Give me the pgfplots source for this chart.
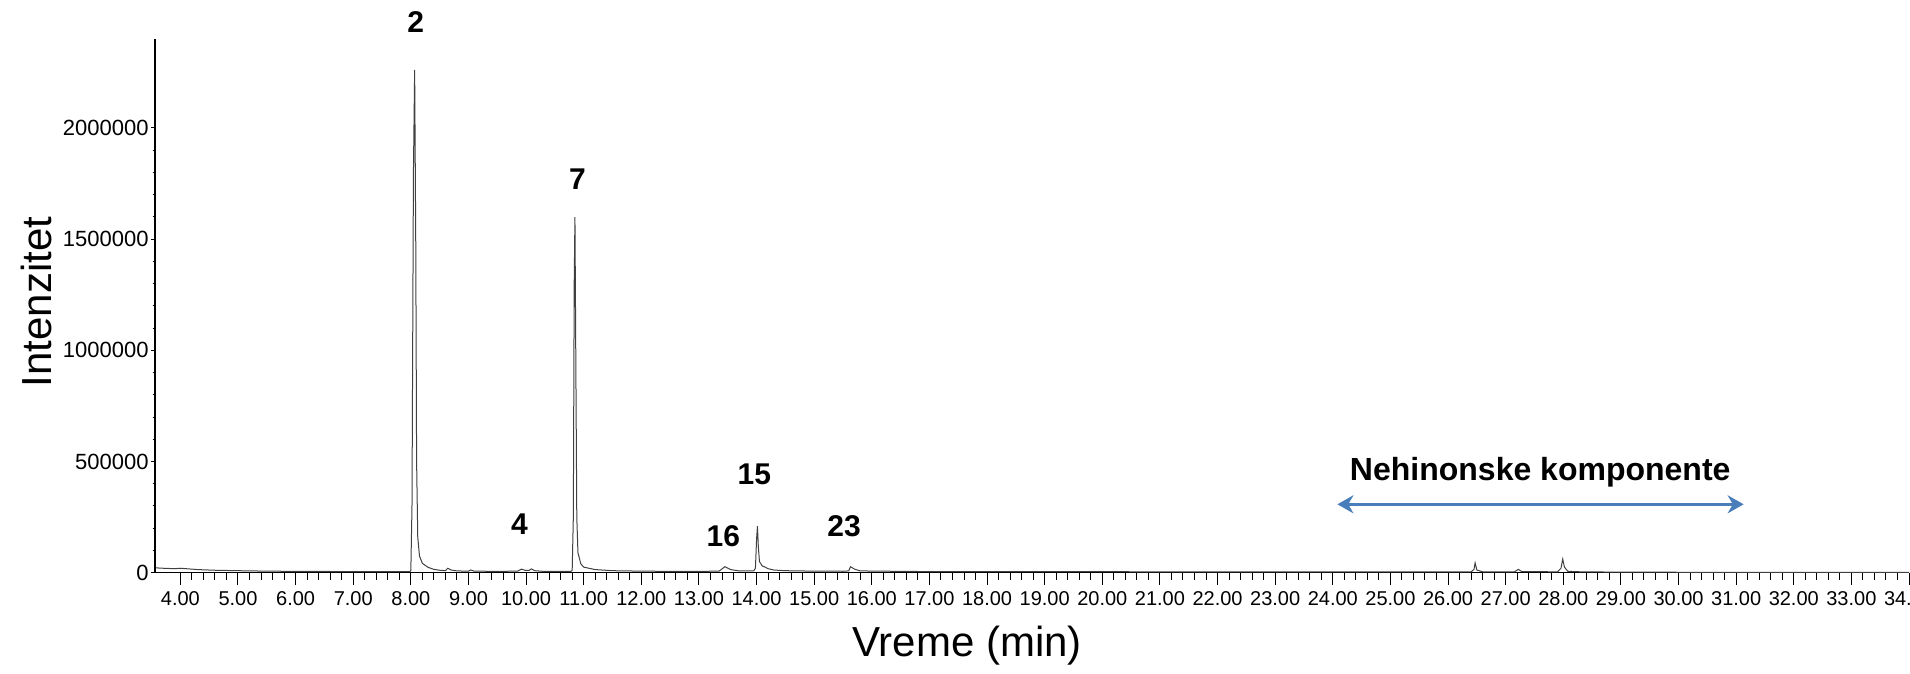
\documentclass[border=0pt]{standalone}
\usepackage{pgfplots}
\pgfplotsset{compat=1.18}
\usepackage{fontspec}
\setmainfont{Liberation Sans}
\usetikzlibrary{arrows.meta}
\definecolor{arrowblue}{RGB}{74,126,187}

\pgfplotstableread{
x y
3.56 22000
3.7 20000
3.9 18000
4.0 20000
4.1 18000
4.3 14000
4.6 11000
5.0 9000
5.5 7000
6.0 6000
6.5 5500
7.0 5000
7.5 5000
7.9 4500
7.98 4500
8.00 10000
8.02 300000
8.045 1800000
8.066 2261000
8.085 1500000
8.10 500000
8.12 160000
8.15 75000
8.2 42000
8.3 24000
8.4 15000
8.5 11000
8.6 9000
8.64 20000
8.7 12000
8.8 8000
9.0 7000
9.04 12000
9.1 7000
9.5 6000
9.85 7000
9.92 16000
9.98 11000
10.05 10000
10.09 17000
10.15 9000
10.3 6000
10.6 6000
10.78 6500
10.80 10000
10.82 250000
10.835 1300000
10.848 1599000
10.862 1000000
10.88 250000
10.90 90000
10.95 40000
11.0 25000
11.2 14000
11.5 9000
12.0 7000
12.5 6000
13.0 6000
13.35 7000
13.45 27000
13.55 14000
13.7 8000
13.95 8000
13.98 20000
14.00 150000
14.015 209000
14.03 120000
14.05 50000
14.1 30000
14.15 25000
14.2 18000
14.3 12000
14.5 9000
15.0 7000
15.5 6500
15.6 8000
15.63 27000
15.7 16000
15.8 8000
16.5 6000
17 5000
18 5000
19 4500
20 4500
21 4000
22 4000
23 4000
24 3500
25 3500
26 3500
26.4 3500
26.45 15000
26.47 44000
26.5 12000
26.6 4000
27.15 3500
27.22 15000
27.28 5000
27.9 4000
27.96 20000
27.99 61000
28.02 25000
28.08 6000
28.3 4000
29 2500
30 2000
31 2000
32 2000
33 2000
34 2000
}\chrom

\begin{document}
\begin{tikzpicture}
% main axis: x axis, data and annotations
\begin{axis}[
 scale only axis,
 width=877pt, height=266.85pt,
 xmin=3.56, xmax=34, ymin=0, ymax=2400000,
 axis lines=left,
 axis line style={-, black, line width=0.6pt},
 xtick={4,5,...,34},
 minor x tick num=4,
 ytick=\empty,
 tick align=outside,
 major tick length=6pt, minor tick length=3.5pt,
 tick style={black, line width=0.5pt},
 /pgf/number format/assume math mode=true,
 xticklabel style={font=\fontsize{10}{12}\selectfont, /pgf/number format/.cd, fixed, fixed zerofill, precision=2},
 xlabel={Vreme (min)},
 every axis x label/.style={at={(axis description cs:0.463,0)}, anchor=center, yshift=-36.5pt, font=\fontsize{21}{25}\selectfont},
 clip=false,
]
\addplot[black!75, line width=0.5pt] table[x=x,y=y] {\chrom};
\node[font=\bfseries\fontsize{15}{18}\selectfont] at (axis cs:8.085,2476000) {2};
\node[font=\bfseries\fontsize{15}{18}\selectfont] at (axis cs:10.893,1770000) {7};
\node[font=\bfseries\fontsize{15}{18}\selectfont] at (axis cs:9.887,219000) {4};
\node[font=\bfseries\fontsize{15}{18}\selectfont] at (axis cs:13.424,165000) {16};
\node[font=\bfseries\fontsize{15}{18}\selectfont] at (axis cs:13.96,444000) {15};
\node[font=\bfseries\fontsize{15}{18}\selectfont] at (axis cs:15.52,210000) {23};
\node[font=\bfseries\fontsize{16}{19}\selectfont] at (axis cs:27.6,450000) {Nehinonske komponente};
\draw[{Stealth[length=8pt,width=9pt]}-{Stealth[length=8pt,width=9pt]}, arrowblue, line width=1.3pt] (axis cs:24.08,307600) -- (axis cs:31.13,307600);
\end{axis}
% overlay axis: y axis with short ticks
\begin{axis}[
 scale only axis,
 width=877pt, height=266.85pt,
 xmin=3.56, xmax=34, ymin=0, ymax=2400000,
 axis x line=none,
 axis y line=left,
 axis line style={-, black, line width=0.6pt},
 xtick=\empty,
 ytick={0,500000,1000000,1500000,2000000},
 minor y tick num=4,
 tick align=outside,
 major tick length=2pt, minor tick length=1.2pt,
 tick style={black, line width=0.5pt},
 scaled y ticks=false,
 /pgf/number format/assume math mode=true,
 yticklabel style={font=\fontsize{11}{13}\selectfont, inner sep=1pt, /pgf/number format/.cd, fixed, 1000 sep={}},
 ylabel={Intenzitet},
 every axis y label/.style={at={(axis description cs:0,0.507)}, rotate=90, anchor=center, yshift=59.25pt, font=\fontsize{21}{25}\selectfont},
]
\end{axis}
\coordinate (bl) at ([xshift=-77.5pt,yshift=-50.65pt]current axis.south west);
\pgfresetboundingbox
\useasboundingbox (bl) rectangle ++(955pt,337pt);
\end{tikzpicture}
\end{document}
